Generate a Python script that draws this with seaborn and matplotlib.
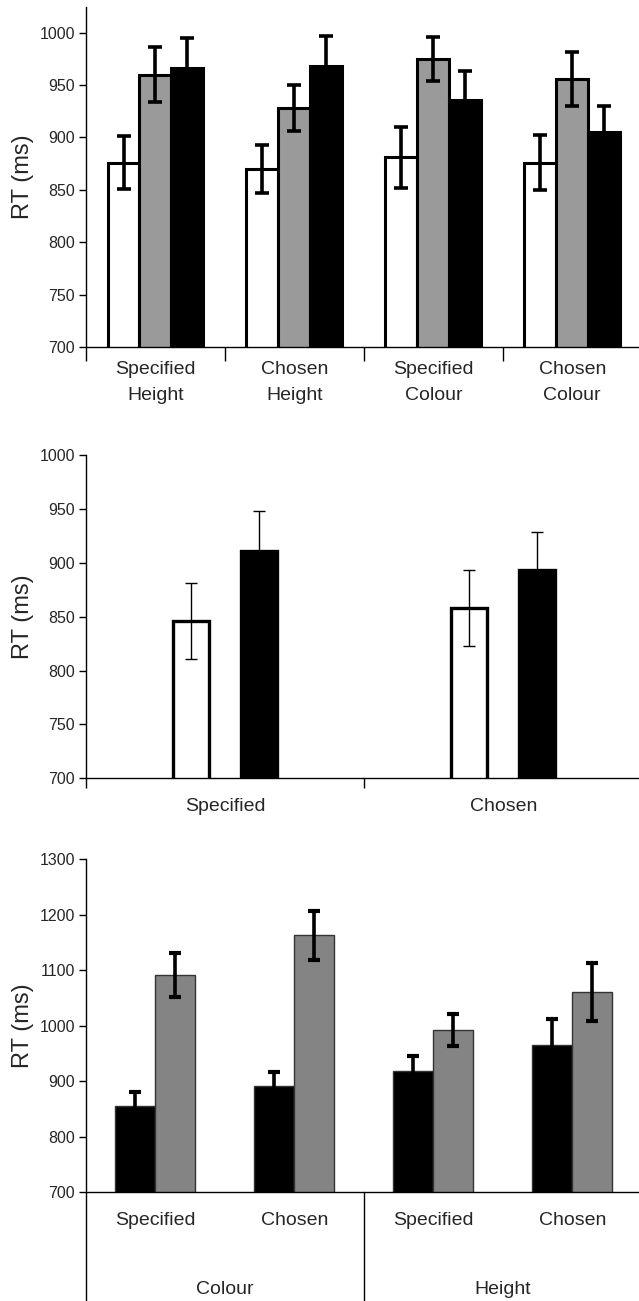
import numpy as np
import pandas as pd
import matplotlib
matplotlib.use("Agg")
import matplotlib.pyplot as plt
import matplotlib.transforms as mtransforms
import seaborn as sns

# ---------------- data ----------------
p1_categories = ["Specified\nHeight", "Chosen\nHeight", "Specified\nColour", "Chosen\nColour"]
p1_series = ["A", "B", "C"]
p1_means = {
    "A": [876, 870, 881, 876],
    "B": [960, 928, 975, 956],
    "C": [966, 968, 936, 905],
}
p1_err = {
    "A": [25, 23, 29, 26],
    "B": [26, 22, 21, 26],
    "C": [29, 29, 27, 25],
}

p2_categories = ["Specified", "Chosen"]
p2_series = ["A", "B"]
p2_means = {"A": [846, 858], "B": [911, 893]}
p2_err = {"A": [35, 35], "B": [37, 36]}

p3_categories = ["Specified ", "Chosen ", "Specified", "Chosen"]
p3_groups = ["Colour", "Height"]
p3_series = ["A", "B"]
p3_means = {"A": [855, 891, 918, 965], "B": [1091, 1163, 992, 1060]}
p3_err = {"A": [25, 25, 28, 47], "B": [39, 44, 29, 52]}

p1_ticks = [700, 750, 800, 850, 900, 950, 1000]
p2_ticks = [700, 750, 800, 850, 900, 950, 1000]
p3_ticks = [700, 800, 900, 1000, 1100, 1200, 1300]

# ---------------- style ----------------
sns.set_theme(style="white")
plt.rcParams["font.family"] = ["Liberation Sans", "DejaVu Sans"]
plt.rcParams["axes.linewidth"] = 1.0

W, H = 639, 1301
fig = plt.figure(figsize=(W / 100, H / 100), dpi=100)


def axes_px(left, top, right, bottom):
    return fig.add_axes([left / W, 1 - bottom / H, (right - left) / W, (bottom - top) / H])


def long_df(cats, series, means):
    rows = []
    for s in series:
        for c, v in zip(cats, means[s]):
            rows.append({"cat": c, "series": s, "value": v})
    return pd.DataFrame(rows)


def add_errors(ax, series, cats, errs, lw, capsize, capthick):
    for cont, s in zip(ax.containers, series):
        xs = [p.get_x() + p.get_width() / 2 for p in cont.patches]
        ys = [p.get_y() + p.get_height() for p in cont.patches]
        ax.errorbar(xs, ys, yerr=errs[s], fmt="none", ecolor="black",
                    elinewidth=lw, capsize=capsize, capthick=capthick, zorder=5)


def style_axes(ax, yticks, ylim, xlim):
    ax.set_ylim(*ylim)
    ax.set_xlim(*xlim)
    ax.set_yticks(yticks)
    ax.set_yticklabels([str(t) for t in yticks], fontsize=11.5)
    for sp in ["top", "right"]:
        ax.spines[sp].set_visible(False)
    for sp in ["left", "bottom"]:
        ax.spines[sp].set_color("black")
        ax.spines[sp].set_linewidth(1.0)
    ax.tick_params(axis="y", left=True, direction="out", length=5, width=1,
                   color="black", pad=3)
    ax.set_ylabel("RT (ms)", fontsize=17, labelpad=4)
    ax.set_xlabel("")
    ax.patch.set_alpha(0)
    if ax.get_legend() is not None:
        ax.get_legend().remove()


# ---------------- panel 1 ----------------
ax1 = axes_px(86, 7, 639, 347)
df1 = long_df(p1_categories, p1_series, p1_means)
sns.barplot(data=df1, x="cat", y="value", hue="series", order=p1_categories,
            hue_order=p1_series, palette=["white", "#9a9a9a", "black"],
            width=0.69, errorbar=None, edgecolor="black", linewidth=2.2,
            legend=False, ax=ax1, zorder=2)
add_errors(ax1, p1_series, p1_categories, p1_err, 2.6, 5, 2.6)
style_axes(ax1, p1_ticks, (700, 1024.5), (-0.5, 3.48))
ax1.set_xticks(range(len(p1_categories)))
ax1.set_xticklabels(p1_categories, fontsize=14, linespacing=1.7)
ax1.set_xticks([-0.5, 0.5, 1.5, 2.5], minor=True)
ax1.tick_params(axis="x", which="major", bottom=True, length=0, pad=10)
ax1.tick_params(axis="x", which="minor", bottom=True, direction="out",
                length=10, width=1, color="black")

# ---------------- panel 2 ----------------
ax2 = axes_px(86, 455, 639, 778.3)
df2 = long_df(p2_categories, p2_series, p2_means)
sns.barplot(data=df2, x="cat", y="value", hue="series", order=p2_categories,
            hue_order=p2_series, palette=["white", "black"],
            width=0.488, gap=0.47, errorbar=None, edgecolor="black", linewidth=2.4,
            legend=False, ax=ax2, zorder=2)
add_errors(ax2, p2_series, p2_categories, p2_err, 1.0, 4, 1.0)
style_axes(ax2, p2_ticks, (700, 1000), (-0.5, 1.488))
ax2.set_xticks(range(len(p2_categories)))
ax2.set_xticklabels(p2_categories, fontsize=14)
ax2.set_xticks([-0.5, 0.5], minor=True)
ax2.tick_params(axis="x", which="major", bottom=True, length=0, pad=14)
ax2.tick_params(axis="x", which="minor", bottom=True, direction="out",
                length=7, width=1, color="black")

# ---------------- panel 3 ----------------
ax3 = axes_px(86, 859, 639, 1192.3)
df3 = long_df(p3_categories, p3_series, p3_means)
sns.barplot(data=df3, x="cat", y="value", hue="series", order=p3_categories,
            hue_order=p3_series, palette=["black", "#848484"],
            width=0.576, errorbar=None, edgecolor="#333333", linewidth=1.0,
            legend=False, ax=ax3, zorder=2)
add_errors(ax3, p3_series, p3_categories, p3_err, 2.6, 4, 3.0)
style_axes(ax3, p3_ticks, (700, 1300), (-0.5, 3.48))
ax3.set_xticks(range(len(p3_categories)))
ax3.set_xticklabels([c.strip() for c in p3_categories], fontsize=14)
ax3.tick_params(axis="x", which="major", bottom=True, length=0, pad=14)

# group labels and separators below the axis
trans = mtransforms.blended_transform_factory(ax3.transData, ax3.transAxes)
bottom_frac = -(H - 1192.3) / (1192.3 - 859)
for xsep in [-0.5, 1.5]:
    ax3.plot([xsep, xsep], [0, bottom_frac], transform=trans, color="black",
             lw=1.0, clip_on=False)
label_y = -(1289 - 1192.3) / (1192.3 - 859)
for i, g in enumerate(p3_groups):
    ax3.text(2 * i + 0.5, label_y, g, transform=trans, ha="center", va="center",
             fontsize=14)

fig.savefig("out.png", dpi=100)
